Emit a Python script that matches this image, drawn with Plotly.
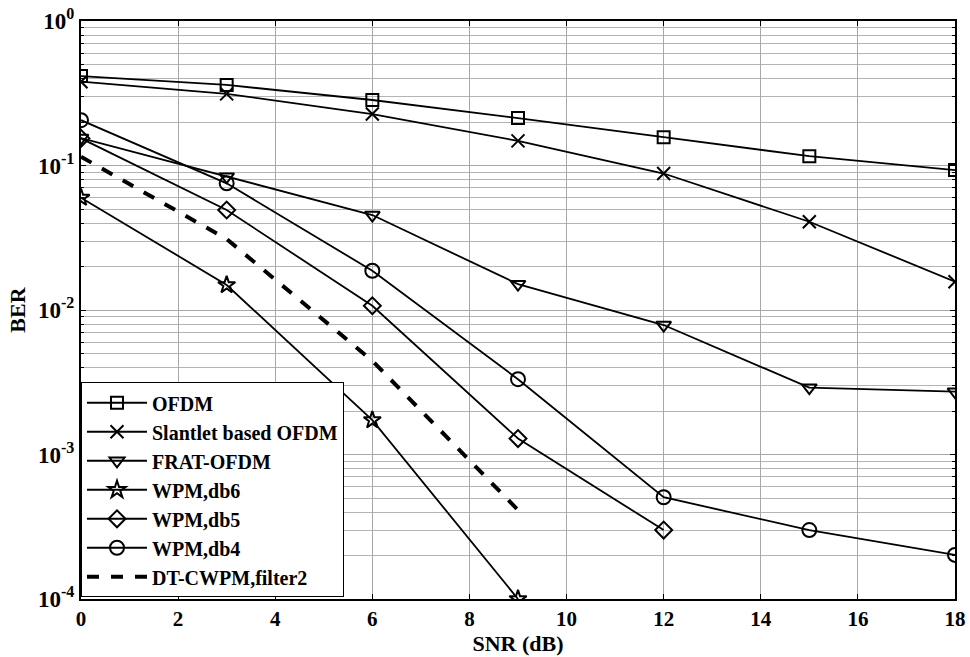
import plotly.graph_objects as go

# SNR points (dB)
snr = [0, 3, 6, 9, 12, 15, 18]
snr_dtcwpm = [0, 3, 6, 9]
snr_db6 = [0, 3, 6, 9]
snr_db5 = [0, 3, 6, 9, 12]

# BER curves
ber_ofdm = [0.416, 0.361, 0.284, 0.213, 0.157, 0.116, 0.093]
ber_slantlet = [0.38, 0.313, 0.227, 0.148, 0.088, 0.0408, 0.0157]
ber_frat = [0.155, 0.0837, 0.0454, 0.0151, 0.00787, 0.0029, 0.00272]
ber_db6 = [0.0599, 0.0149, 0.00173, 0.0001]
ber_db5 = [0.154, 0.0492, 0.0107, 0.00129, 0.0003]
ber_db4 = [0.206, 0.0753, 0.0187, 0.00332, 0.000506, 0.0003, 0.000202]
ber_dtcwpm = [0.115, 0.031, 0.00445, 0.000413]

# Axis ticks
x_ticks = [0, 2, 4, 6, 8, 10, 12, 14, 16, 18]
y_exponents = [-4, -3, -2, -1, 0]

FONT = "Liberation Serif"

fig = go.Figure()

def add(x, y, name, symbol=None, msize=11, dash="solid", width=1.8):
    mode = "lines+markers" if symbol else "lines"
    fig.add_trace(go.Scatter(
        x=x, y=y, name=f"<b>{name}</b>", mode=mode,
        line=dict(color="black", width=width, dash=dash),
        marker=dict(symbol=symbol, size=msize, color="black",
                    line=dict(color="black", width=2)) if symbol else None,
    ))

add(snr, ber_ofdm, "OFDM", "square-open", 12)
add(snr, ber_slantlet, "Slantlet based OFDM", "x-thin-open", 13)
add(snr, ber_frat, "FRAT-OFDM", "triangle-down-open", 13)
add(snr_db6, ber_db6, "WPM,db6", "star-open", 13)
add(snr_db5, ber_db5, "WPM,db5", "diamond-open", 13)
add(snr, ber_db4, "WPM,db4", "circle-open", 14)
add(snr_dtcwpm, ber_dtcwpm, "DT-CWPM,filter2", None, dash="dash", width=4)

minor_vals = [m * 10 ** e for e in range(-4, 0) for m in range(2, 10)]

fig.update_layout(
    width=970, height=657,
    margin=dict(l=81, r=15, t=21, b=58),
    paper_bgcolor="white", plot_bgcolor="white",
    font=dict(family=FONT, color="black", size=20),
    showlegend=True,
    legend=dict(
        x=0, y=0.003, xanchor="left", yanchor="bottom",
        bgcolor="white", bordercolor="black", borderwidth=1,
        font=dict(family=FONT, size=20, color="black"),
        tracegroupgap=0, itemwidth=60,
    ),
    xaxis=dict(
        range=[0, 18], tickmode="array", tickvals=x_ticks,
        ticktext=[f"<b>{v}</b>" for v in x_ticks],
        showgrid=True, gridcolor="#a8a8a8", gridwidth=1,
        showline=True, linecolor="black", linewidth=2, mirror="allticks",
        ticks="inside", ticklen=5, tickcolor="black",
        tickfont=dict(family=FONT, size=21, color="black"),
        zeroline=False, automargin=False,
        title=dict(text="<b>SNR (dB)</b>", standoff=2,
                   font=dict(family=FONT, size=22, color="black")),
    ),
    yaxis=dict(
        type="log", range=[-4, 0], tickmode="array",
        tickvals=[10.0 ** e for e in y_exponents],
        ticktext=[f"<b>10<sup>{e}</sup></b>" for e in y_exponents],
        showgrid=True, gridcolor="#a8a8a8", gridwidth=1,
        showline=True, linecolor="black", linewidth=2, mirror="allticks",
        ticks="inside", ticklen=5, tickcolor="black",
        tickfont=dict(family=FONT, size=23, color="black"),
        zeroline=False, automargin=False,
        minor=dict(tickmode="array", tickvals=minor_vals, showgrid=True,
                   gridcolor="#b4b4b4", gridwidth=1, ticks="inside",
                   ticklen=3, tickcolor="black"),
        title=dict(text="<b>BER</b>", standoff=6,
                   font=dict(family=FONT, size=22, color="black")),
    ),
)

fig.write_html("out.html")
